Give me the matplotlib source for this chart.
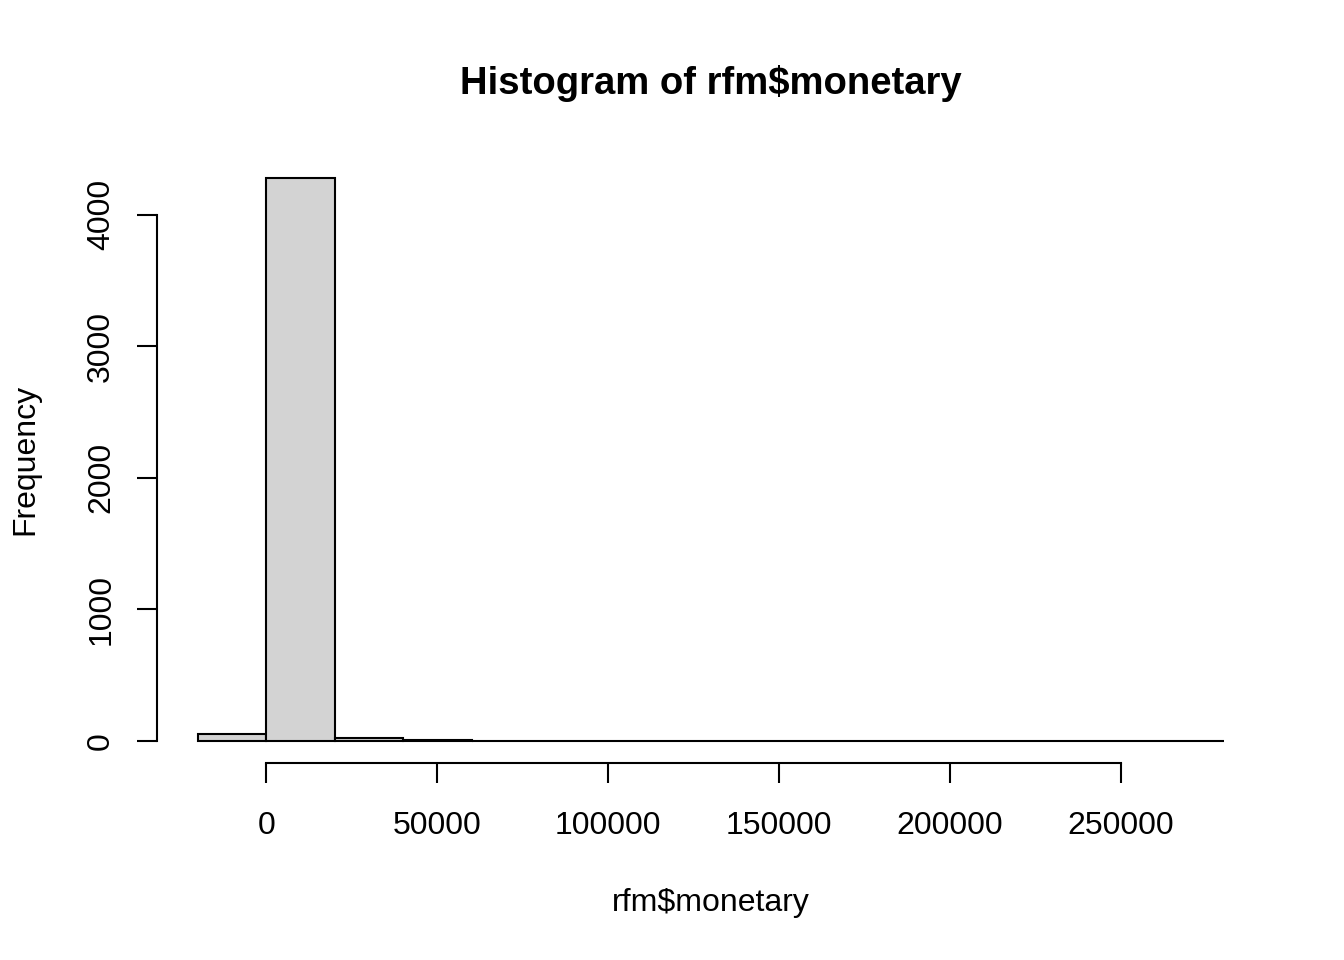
import matplotlib.pyplot as plt
import numpy as np

plt.rcParams['font.family'] = ['Liberation Sans', 'DejaVu Sans']

# bin edges (R hist breaks) and counts
bin_edges = np.arange(-20000, 280001, 20000)
counts = [55, 4275, 20, 10, 3, 2, 1, 1, 1, 0, 0, 1, 0, 1, 1]
x_ticks = [0, 50000, 100000, 150000, 200000, 250000]
y_ticks = [0, 1000, 2000, 3000, 4000]

fig = plt.figure(figsize=(13.44, 9.6), dpi=100)
ax = fig.add_axes([0.1168, 0.2047, 0.941 - 0.1168, 0.8375 - 0.2047])

ax.bar(bin_edges[:-1], counts, width=20000, align='edge',
       facecolor='#D3D3D3', edgecolor='black', linewidth=1.5)

# R-style axis extension (4% each side)
xr = bin_edges[-1] - bin_edges[0]
ax.set_xlim(bin_edges[0] - 0.04 * xr, bin_edges[-1] + 0.04 * xr)
yr = max(counts)
ax.set_ylim(-0.04 * yr, yr * 1.04)

for s in ['top', 'right']:
    ax.spines[s].set_visible(False)
ax.spines['left'].set_bounds(0, 4000)
ax.spines['bottom'].set_bounds(0, 250000)
ax.spines['left'].set_linewidth(1.5)
ax.spines['bottom'].set_linewidth(1.5)

ax.set_xticks(x_ticks)
ax.set_xticklabels([str(v) for v in x_ticks])
ax.set_yticks(y_ticks)
ax.set_yticklabels([str(v) for v in y_ticks], rotation=90, va='center')
ax.tick_params(axis='both', length=14.4, width=1.5, labelsize=23)
ax.tick_params(axis='x', pad=19.5)
ax.tick_params(axis='y', pad=15)

ax.set_title(r'Histogram of rfm\$monetary', fontsize=27.5, fontweight='bold', pad=45)
ax.set_xlabel(r'rfm\$monetary', fontsize=23, labelpad=34)
ax.set_ylabel('Frequency', fontsize=23, labelpad=33)

plt.savefig('out.png')
plt.close()
